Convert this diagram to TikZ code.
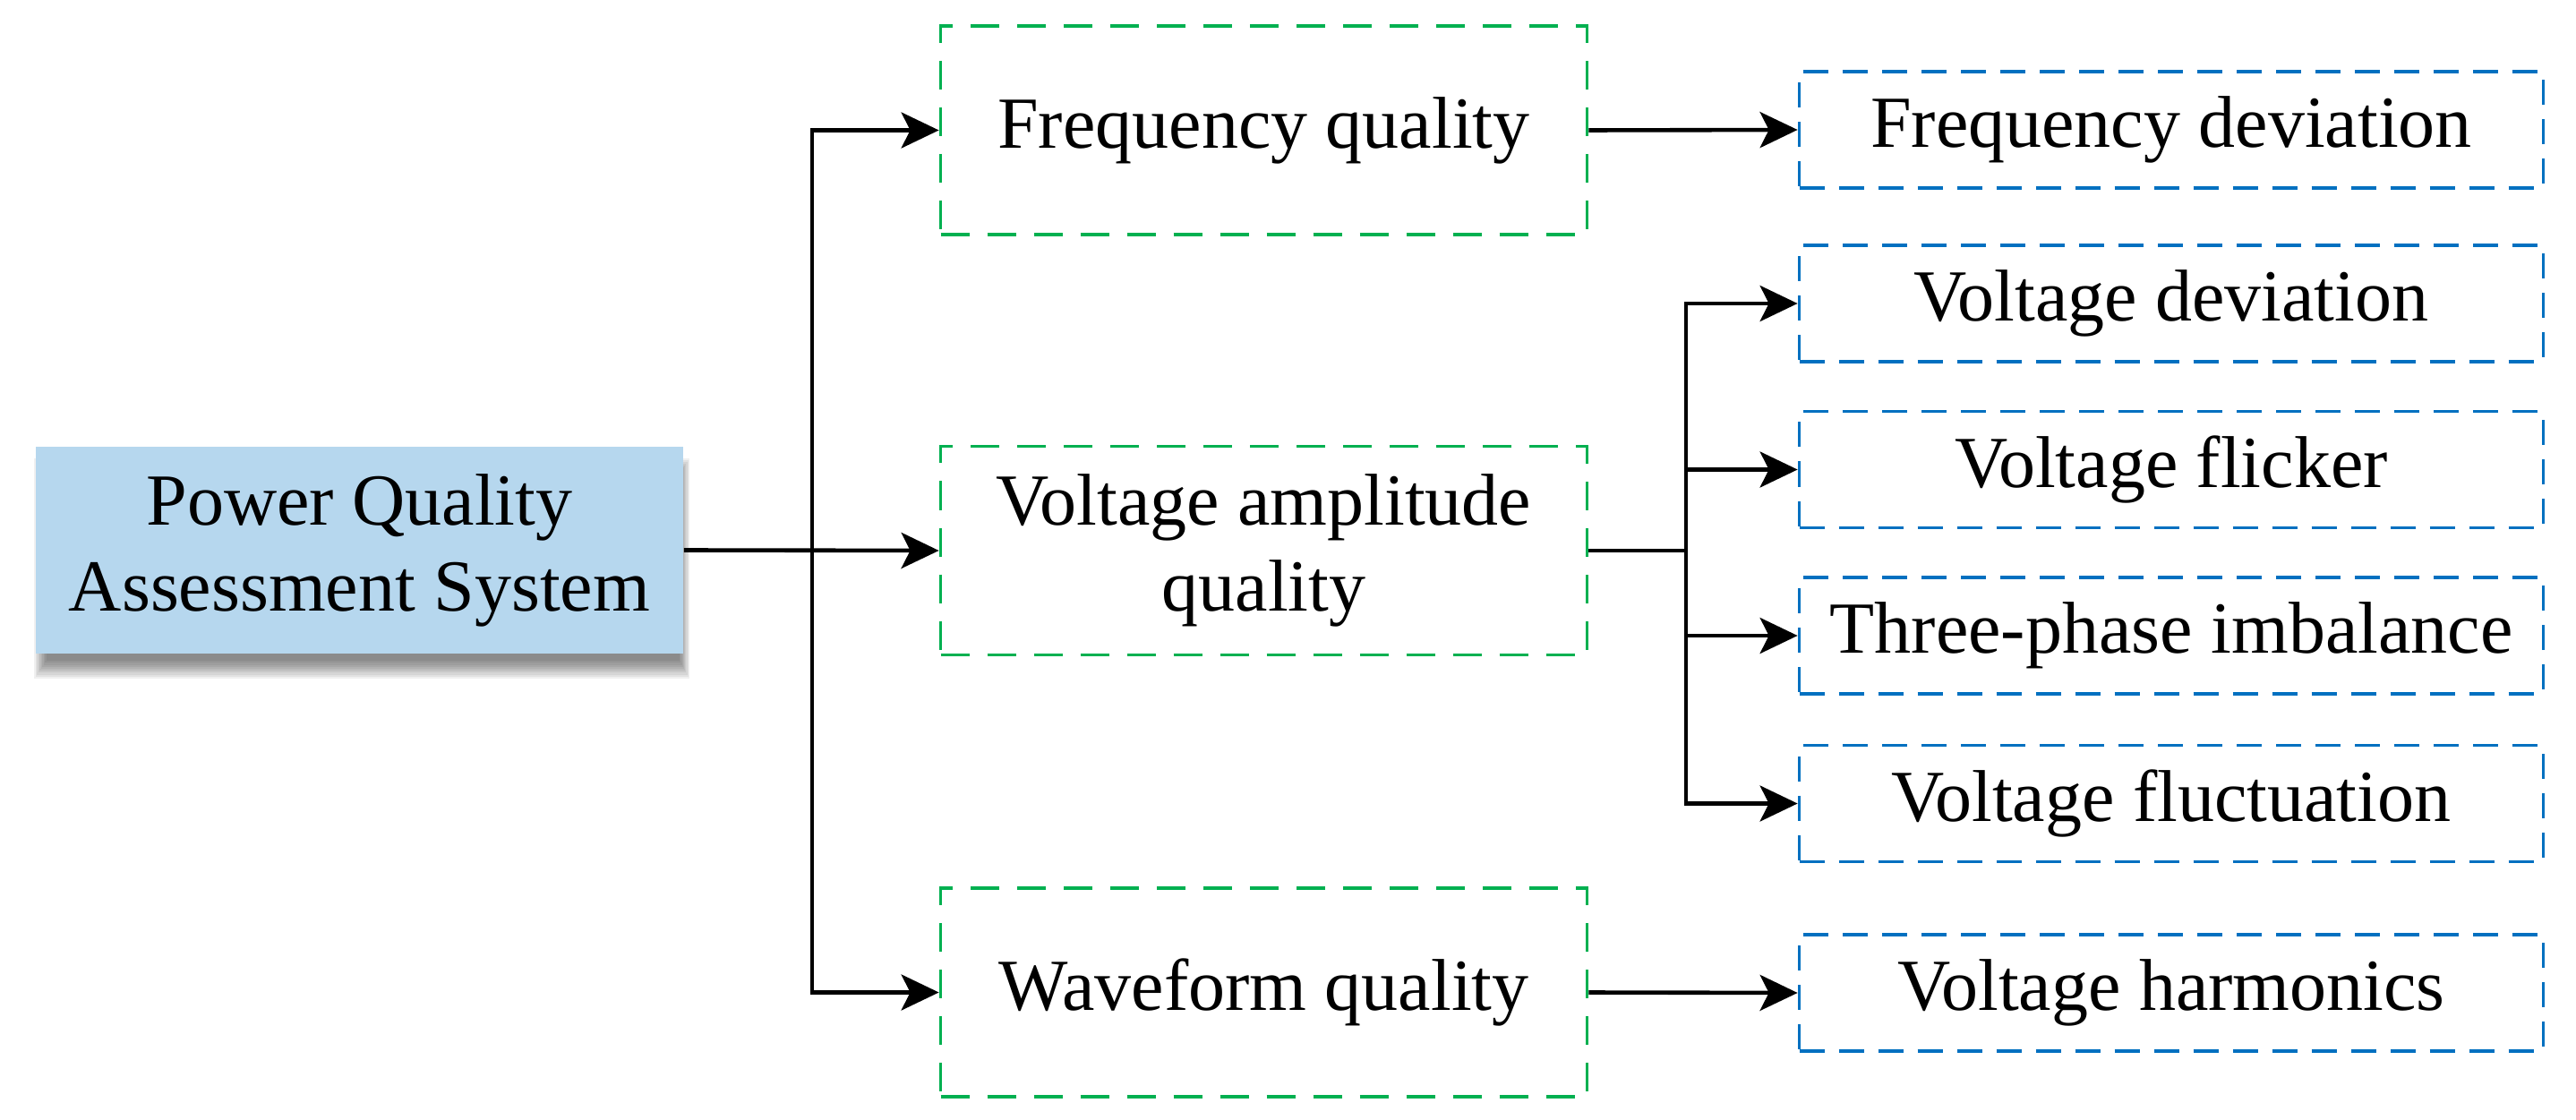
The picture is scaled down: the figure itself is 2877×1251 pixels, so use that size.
\documentclass[tikz,border=0pt]{standalone}
\usepackage{fontspec}
\setmainfont{Liberation Serif}
\usetikzlibrary{arrows.meta}
\definecolor{boxblue}{HTML}{B6D7EE}
\definecolor{catgreen}{HTML}{00B050}
\definecolor{itemblue}{HTML}{0070C0}
\tikzset{
  txt/.style={font=\fontsize{20.5pt}{24pt}\selectfont, align=center, inner sep=0pt},
  mainbox/.style={txt, fill=boxblue, minimum width=180.75pt, minimum height=57.75pt},
  catbox/.style={txt, draw=catgreen, line width=0.95pt, dash pattern=on 8pt off 5pt, minimum width=180.5pt, minimum height=58.25pt},
  itembox/.style={txt, draw=itemblue, line width=0.95pt, dash pattern=on 7pt off 4pt, minimum width=207.75pt, minimum height=32.5pt},
  conn/.style={line width=1.15pt, black},
  arr/.style={conn, -{Stealth[length=10.5pt,width=10pt,inset=2.5pt]}}
}
\begin{document}
\begin{tikzpicture}[x=0.25pt,y=-0.25pt]
\useasboundingbox (0,0) rectangle (2877,1251);
% shadow
\foreach \k in {0,...,9}{
  \fill[black, opacity=0.06] (38+\k*1.5,512+\k*2) rectangle (770-\k*1.2,758-\k*2.2);
}
\node[mainbox] (pqas) at (401.5,614.5) {Power Quality\\Assessment System};
\node[catbox] (fq) at (1411.5,145.5) {Frequency quality};
\node[catbox] (va) at (1411.5,615) {Voltage amplitude\\quality};
\node[catbox] (wf) at (1411.5,1108.5) {Waveform quality};
\node[itembox] (fd) at (2425,145) {Frequency deviation};
\node[itembox] (vd) at (2425,339) {Voltage deviation};
\node[itembox] (vfl) at (2425,524.5) {Voltage flicker};
\node[itembox] (tp) at (2425,710) {Three-phase imbalance};
\node[itembox] (vfu) at (2425,897.5) {Voltage fluctuation};
\node[itembox] (vh) at (2425,1109) {Voltage harmonics};
\coordinate (j1) at (907,615);
\coordinate (j2) at (1883,615);
\draw[arr] (pqas.east) -- (va.west);
\draw[arr] (j1) |- (fq.west);
\draw[arr] (j1) |- (wf.west);
\draw[arr] (fq.east) -- (fd.west);
\draw[arr] (wf.east) -- (vh.west);
\draw[conn] (va.east) -- (j2);
\draw[arr] (j2) |- (vd.west);
\draw[arr] (j2) |- (vfl.west);
\draw[arr] (j2) |- (tp.west);
\draw[arr] (j2) |- (vfu.west);
\end{tikzpicture}
\end{document}
